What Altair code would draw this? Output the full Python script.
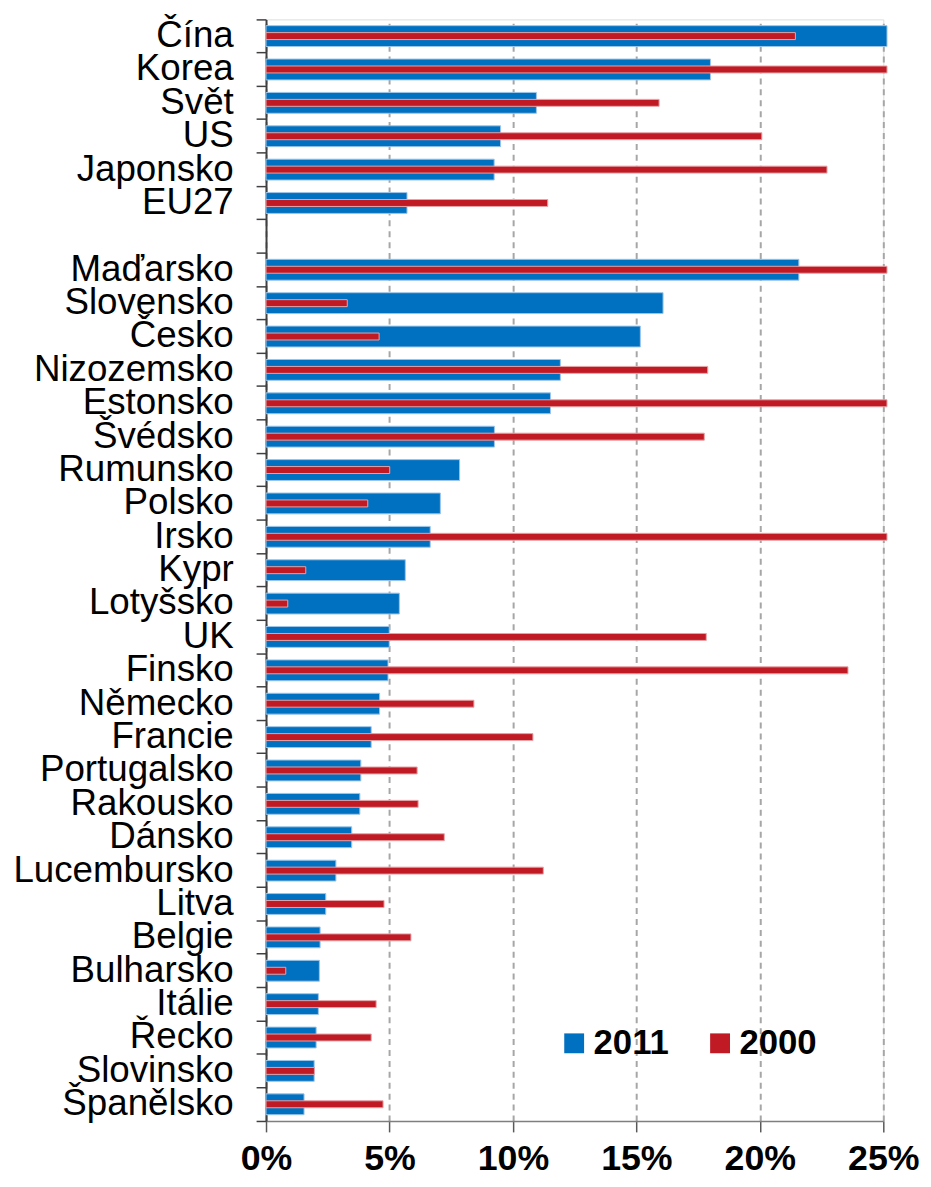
import altair as alt
import pandas as pd

# Category order (top to bottom); " " is the empty separator row
order = ["Čína", "Korea", "Svět", "US", "Japonsko", "EU27", " ",
         "Maďarsko", "Slovensko", "Česko", "Nizozemsko", "Estonsko", "Švédsko",
         "Rumunsko", "Polsko", "Irsko", "Kypr", "Lotyšsko", "UK", "Finsko",
         "Německo", "Francie", "Portugalsko", "Rakousko", "Dánsko", "Lucembursko",
         "Litva", "Belgie", "Bulharsko", "Itálie", "Řecko", "Slovinsko", "Španělsko"]

names = ["Čína", "Korea", "Svět", "US", "Japonsko", "EU27",
         "Maďarsko", "Slovensko", "Česko", "Nizozemsko", "Estonsko", "Švédsko",
         "Rumunsko", "Polsko", "Irsko", "Kypr", "Lotyšsko", "UK", "Finsko",
         "Německo", "Francie", "Portugalsko", "Rakousko", "Dánsko", "Lucembursko",
         "Litva", "Belgie", "Bulharsko", "Itálie", "Řecko", "Slovinsko", "Španělsko"]

v2011 = [25.15, 18.0, 10.95, 9.5, 9.24, 5.71,
         21.58, 16.08, 15.16, 11.92, 11.52, 9.25,
         7.84, 7.06, 6.65, 5.64, 5.40, 4.99, 4.94,
         4.60, 4.26, 3.84, 3.80, 3.47, 2.83,
         2.42, 2.19, 2.16, 2.12, 2.03, 1.95, 1.54]

v2000 = [21.44, 25.15, 15.92, 20.08, 22.72, 11.41,
         25.15, 3.29, 4.58, 17.89, 25.15, 17.75,
         5.01, 4.12, 25.15, 1.61, 0.88, 17.83, 23.57,
         8.42, 10.81, 6.12, 6.16, 7.22, 11.23,
         4.78, 5.87, 0.80, 4.46, 4.26, 1.96, 4.74]

series = ["2011", "2000"]
colors = ["#0070C0", "#C01A24"]
x_ticks = [0, 5, 10, 15, 20, 25]

df11 = pd.DataFrame({"country": names, "value": v2011, "series": "2011"})
df00 = pd.DataFrame({"country": names, "value": v2000, "series": "2000"})

FONT = "Liberation Sans"

y_enc = alt.Y(
    "country:N",
    scale=alt.Scale(domain=order, paddingInner=0, paddingOuter=0),
    axis=alt.Axis(
        title=None,
        labelFontSize=37,
        labelFont=FONT,
        labelColor="black",
        labelLimit=400,
        labelPadding=23,
        tickSize=10,
        tickColor="#404040",
        tickWidth=1.5,
        bandPosition=1,
        tickExtra=True,
        domainColor="#404040",
        domainWidth=2,
        grid=False,
    ),
)

x_enc = alt.X(
    "value:Q",
    scale=alt.Scale(domain=[0, 25], nice=False),
    axis=alt.Axis(
        title=None,
        values=x_ticks,
        labelExpr="datum.value + '%'",
        labelFontSize=36,
        labelFont=FONT,
        labelFontWeight="bold",
        labelColor="black",
        labelFlush=False,
        labelPadding=10,
        tickSize=11,
        tickColor="#595959",
        tickWidth=1.5,
        domainColor="#7F7F7F",
        domainWidth=1.5,
        grid=True,
        gridColor="#A6A6A6",
        gridDash=[6, 5],
        gridWidth=2,
    ),
)

color_enc = alt.Color(
    "series:N",
    scale=alt.Scale(domain=series, range=colors),
    legend=alt.Legend(
        title=None,
        orient="none",
        legendX=293,
        legendY=1014,
        direction="horizontal",
        symbolType="square",
        symbolSize=400,
        symbolStrokeWidth=0,
        symbolOpacity=1,
        labelFontSize=35,
        labelFont=FONT,
        labelFontWeight="bold",
        labelColor="black",
        labelOffset=2,
        columnPadding=34,
        padding=0,
    ),
)

bars11 = alt.Chart(df11).mark_bar(size=21, stroke="#9CC5E8", strokeWidth=1).encode(
    x=x_enc, y=y_enc, color=color_enc
)
bars00 = alt.Chart(df00).mark_bar(size=7, stroke="#E6A3A6", strokeWidth=1).encode(
    x=x_enc, y=y_enc, color=color_enc
)

chart = (
    alt.layer(bars11, bars00)
    .properties(
        width=622,
        height=1110,
        padding={"left": 260, "top": 7, "right": 40, "bottom": 56},
        autosize=alt.AutoSizeParams(type="none"),
    )
    .configure_view(stroke="#A6A6A6", strokeWidth=2.5)
    .configure(background="white")
)

chart.save("out.html", embed_options={"renderer": "svg", "actions": False})
